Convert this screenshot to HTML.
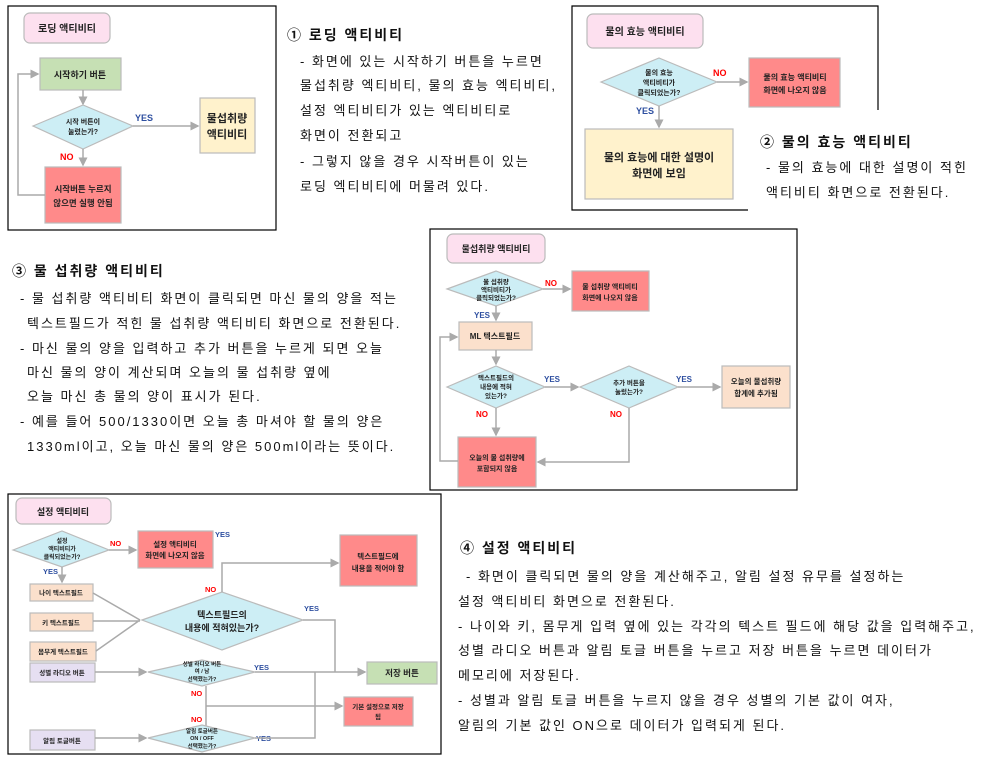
<!DOCTYPE html>
<html><head><meta charset="utf-8"><style>
html,body{margin:0;padding:0;background:#fff;}
svg{display:block;font-family:"Liberation Sans","Noto Sans CJK KR",sans-serif;}
.t{font-size:13px;fill:#111;letter-spacing:2px;}
.h{font-size:14px;font-weight:bold;fill:#111;letter-spacing:2px;}
.b{font-size:8px;font-weight:bold;fill:#222;text-anchor:middle;}
.y{font-size:9px;font-weight:bold;fill:#2e4fa0;}
.n{font-size:9px;font-weight:bold;fill:#f00;}
.l{stroke:#aaa;stroke-width:1.5;fill:none;}
.bx{stroke:#bbb;stroke-width:1.2;}
</style></head><body>
<svg width="981" height="760" viewBox="0 0 981 760">
<defs><marker id="a" markerWidth="6" markerHeight="6" refX="5" refY="3" orient="auto"><path d="M0,0 L6,3 L0,6z" fill="#aaa"/></marker></defs>

<!-- Panel 1 -->
<rect x="8" y="6" width="268" height="224" fill="none" stroke="#000" stroke-width="1.2"/>
<rect x="24" y="13" width="86" height="30" rx="6" fill="#fde0ef" stroke="#bbb" stroke-width="1.2"/>
<text x="67" y="32" class="b" style="font-size:10px">로딩 액티비티</text>
<rect x="40" y="58" width="81" height="32" fill="#c6e0b4" class="bx"/>
<text x="80" y="78" class="b" style="font-size:9px">시작하기 버튼</text>
<path class="l" d="M83,90 V104" marker-end="url(#a)"/>
<polygon points="33,126 83,105 133,126 83,149" fill="#cdeef5" class="bx"/>
<text x="83" y="124" class="b" style="font-size:7px">시작 버튼이</text>
<text x="83" y="134" class="b" style="font-size:7px">눌렸는가?</text>
<text x="135" y="121" class="y">YES</text>
<path class="l" d="M133,126 H198" marker-end="url(#a)"/>
<rect x="200" y="98" width="55" height="55" fill="#fff2cc" class="bx"/>
<text x="227" y="122" class="b" style="font-size:11px">물섭취량</text>
<text x="227" y="138" class="b" style="font-size:11px">액티비티</text>
<text x="60" y="160" class="n">NO</text>
<path class="l" d="M83,149 V165" marker-end="url(#a)"/>
<rect x="45" y="167" width="76" height="56" fill="#ff8a8a" class="bx"/>
<text x="83" y="192" class="b" style="font-size:8.5px">시작버튼 누르지</text>
<text x="83" y="206" class="b" style="font-size:8.5px">않으면 실행 안됨</text>
<path class="l" d="M45,195 H18 V74 H38" marker-end="url(#a)"/>

<!-- Text 1 -->
<text x="287" y="40" class="h">① 로딩 액티비티</text>
<text x="300" y="66" class="t">- 화면에 있는 시작하기 버튼을 누르면</text>
<text x="300" y="90" class="t">물섭취량 엑티비티, 물의 효능 엑티비티,</text>
<text x="300" y="115" class="t">설정 엑티비티가 있는 엑티비티로</text>
<text x="300" y="140" class="t">화면이 전환되고</text>
<text x="300" y="166" class="t">- 그렇지 않을 경우 시작버튼이 있는</text>
<text x="300" y="191" class="t">로딩 엑티비티에 머물려 있다.</text>

<!-- Panel 2 -->
<path d="M748,210 H572 V6 H878 V110" fill="none" stroke="#000" stroke-width="1.2"/>
<rect x="587" y="14" width="116" height="34" rx="6" fill="#fde0ef" stroke="#bbb" stroke-width="1.2"/>
<text x="645" y="35" class="b" style="font-size:10px">물의 효능 액티비티</text>
<polygon points="601,82 659,58 717,82 659,106" fill="#cdeef5" class="bx"/>
<text x="659" y="75" class="b" style="font-size:7px">물의 효능</text>
<text x="659" y="85" class="b" style="font-size:7px">액티비티가</text>
<text x="659" y="95" class="b" style="font-size:7px">클릭되었는가?</text>
<text x="713" y="76" class="n">NO</text>
<path class="l" d="M717,82 H747" marker-end="url(#a)"/>
<rect x="749" y="58" width="91" height="49" fill="#ff8a8a" class="bx"/>
<text x="795" y="80" class="b" style="font-size:8px">물의 효능 액티비티</text>
<text x="795" y="93" class="b" style="font-size:8px">화면에 나오지 않음</text>
<text x="636" y="114" class="y">YES</text>
<path class="l" d="M659,106 V127" marker-end="url(#a)"/>
<rect x="585" y="129" width="148" height="70" fill="#fff2cc" class="bx"/>
<text x="659" y="161" class="b" style="font-size:11px">물의 효능에 대한 설명이</text>
<text x="659" y="177" class="b" style="font-size:11px">화면에 보임</text>
<text x="760" y="147" class="h">② 물의 효능 액티비티</text>
<text x="766" y="172" class="t">- 물의 효능에 대한 설명이 적힌</text>
<text x="766" y="197" class="t">액티비티 화면으로 전환된다.</text>

<!-- Text 3 -->
<text x="12" y="276" class="h">③ 물 섭취량 액티비티</text>
<text x="20" y="303" class="t">- 물 섭취량 액티비티 화면이 클릭되면 마신 물의 양을 적는</text>
<text x="27" y="328" class="t">텍스트필드가 적힌 물 섭취량 액티비티 화면으로 전환된다.</text>
<text x="20" y="353" class="t">- 마신 물의 양을 입력하고 추가 버튼을 누르게 되면 오늘</text>
<text x="27" y="377" class="t">마신 물의 양이 계산되며 오늘의 물 섭취량 옆에</text>
<text x="27" y="401" class="t">오늘 마신 총 물의 양이 표시가 된다.</text>
<text x="20" y="426" class="t">- 예를 들어 500/1330이면 오늘 총 마셔야 할 물의 양은</text>
<text x="27" y="451" class="t">1330ml이고, 오늘 마신 물의 양은 500ml이라는 뜻이다.</text>

<!-- Panel 3 -->
<rect x="430" y="229" width="367" height="261" fill="none" stroke="#000" stroke-width="1.2"/>
<rect x="447" y="234" width="98" height="29" rx="6" fill="#fde0ef" stroke="#bbb" stroke-width="1.2"/>
<text x="496" y="252" class="b" style="font-size:9px">물섭취량 액티비티</text>
<polygon points="447,289 496,271 543,289 496,306" fill="#cdeef5" class="bx"/>
<text x="496" y="284" class="b" style="font-size:6.5px">물 섭취량</text>
<text x="496" y="292" class="b" style="font-size:6.5px">액티비티가</text>
<text x="496" y="300" class="b" style="font-size:6.5px">클릭되었는가?</text>
<text x="545" y="286" class="n" style="font-size:8px">NO</text>
<path class="l" d="M543,289 H570" marker-end="url(#a)"/>
<rect x="572" y="271" width="77" height="40" fill="#ff8a8a" class="bx"/>
<text x="610" y="289" class="b" style="font-size:7px">물 섭취량 액티비티</text>
<text x="610" y="300" class="b" style="font-size:7px">화면에 나오지 않음</text>
<text x="474" y="318" class="y" style="font-size:8px">YES</text>
<path class="l" d="M496,306 V320" marker-end="url(#a)"/>
<rect x="459" y="322" width="73" height="28" fill="#fbe0cc" class="bx"/>
<text x="495" y="339" class="b" style="font-size:8px">ML 텍스트필드</text>
<path class="l" d="M496,350 V364" marker-end="url(#a)"/>
<polygon points="447,387 496,366 545,387 496,408" fill="#cdeef5" class="bx"/>
<text x="496" y="380" class="b" style="font-size:6.5px">텍스트필드의</text>
<text x="496" y="389" class="b" style="font-size:6.5px">내용에 적혀</text>
<text x="496" y="398" class="b" style="font-size:6.5px">있는가?</text>
<text x="544" y="382" class="y" style="font-size:8px">YES</text>
<path class="l" d="M545,387 H578" marker-end="url(#a)"/>
<polygon points="580,387 629,366 678,387 629,408" fill="#cdeef5" class="bx"/>
<text x="629" y="385" class="b" style="font-size:6.5px">추가 버튼을</text>
<text x="629" y="394" class="b" style="font-size:6.5px">눌렀는가?</text>
<text x="676" y="382" class="y" style="font-size:8px">YES</text>
<path class="l" d="M678,387 H720" marker-end="url(#a)"/>
<rect x="722" y="366" width="68" height="42" fill="#fbe0cc" class="bx"/>
<text x="756" y="384" class="b" style="font-size:7.5px">오늘의 물섭취량</text>
<text x="756" y="396" class="b" style="font-size:7.5px">합계에 추가됨</text>
<text x="476" y="417" class="n" style="font-size:8px">NO</text>
<path class="l" d="M496,408 V435" marker-end="url(#a)"/>
<text x="610" y="417" class="n" style="font-size:8px">NO</text>
<path class="l" d="M629,408 V462 H538" marker-end="url(#a)"/>
<rect x="458" y="437" width="78" height="50" fill="#ff8a8a" class="bx"/>
<text x="497" y="460" class="b" style="font-size:7px">오늘의 물 섭취량에</text>
<text x="497" y="471" class="b" style="font-size:7px">포함되지 않음</text>
<path class="l" d="M458,461 H440 V337 H457" marker-end="url(#a)"/>

<!-- Panel 4 -->
<rect x="8" y="494" width="433" height="260" fill="none" stroke="#000" stroke-width="1.2"/>
<rect x="16" y="498" width="95" height="26" rx="6" fill="#fde0ef" stroke="#bbb" stroke-width="1.2"/>
<text x="63" y="515" class="b" style="font-size:9px">설정 액티비티</text>
<polygon points="13,550 62,531 109,550 62,567" fill="#cdeef5" class="bx"/>
<text x="62" y="543" class="b" style="font-size:6px">설정</text>
<text x="62" y="551" class="b" style="font-size:6px">액티비티가</text>
<text x="62" y="559" class="b" style="font-size:6px">클릭되었는가?</text>
<text x="110" y="546" class="n" style="font-size:7.5px">NO</text>
<path class="l" d="M109,550 H136" marker-end="url(#a)"/>
<rect x="138" y="531" width="75" height="37" fill="#ff8a8a" class="bx"/>
<text x="175" y="547" class="b" style="font-size:7.5px">설정 액티비티</text>
<text x="175" y="558" class="b" style="font-size:7.5px">화면에 나오지 않음</text>
<text x="215" y="537" class="y" style="font-size:7.5px">YES</text>
<text x="43" y="574" class="y" style="font-size:7.5px">YES</text>
<path class="l" d="M62,567 V582" marker-end="url(#a)"/>
<rect x="30" y="584" width="63" height="17" fill="#fbe0cc" class="bx"/>
<text x="61" y="595" class="b" style="font-size:6.5px">나이 텍스트필드</text>
<rect x="30" y="613" width="63" height="18" fill="#fbe0cc" class="bx"/>
<text x="61" y="625" class="b" style="font-size:6.5px">키 텍스트필드</text>
<rect x="30" y="642" width="66" height="19" fill="#fbe0cc" class="bx"/>
<text x="63" y="654" class="b" style="font-size:6.5px">몸무게 텍스트필드</text>
<path class="l" d="M93,593 L140,620 M93,621 H140 M96,651 L140,620"/>
<polygon points="142,620 222,592 303,620 222,650" fill="#cdeef5" class="bx"/>
<text x="222" y="618" class="b" style="font-size:9px">텍스트필드의</text>
<text x="222" y="631" class="b" style="font-size:9px">내용에 적혀있는가?</text>
<text x="205" y="592" class="n" style="font-size:7.5px">NO</text>
<path class="l" d="M222,592 V563 H338" marker-end="url(#a)"/>
<rect x="340" y="535" width="77" height="51" fill="#ff8a8a" class="bx"/>
<text x="378" y="559" class="b" style="font-size:7.5px">텍스트필드에</text>
<text x="378" y="571" class="b" style="font-size:7.5px">내용을 적어야 함</text>
<text x="304" y="611" class="y" style="font-size:7.5px">YES</text>
<path class="l" d="M303,620 H335 V672"/>
<rect x="30" y="663" width="65" height="19" fill="#e6dff2" class="bx"/>
<text x="62" y="675" class="b" style="font-size:6.5px">성별 라디오 버튼</text>
<path class="l" d="M95,672 H146" marker-end="url(#a)"/>
<polygon points="148,672 202,660 255,672 202,686" fill="#cdeef5" class="bx"/>
<text x="202" y="666" class="b" style="font-size:5.5px">성별 라디오 버튼</text>
<text x="202" y="673" class="b" style="font-size:5.5px">여 / 남</text>
<text x="202" y="681" class="b" style="font-size:5.5px">선택했는가?</text>
<text x="254" y="670" class="y" style="font-size:7.5px">YES</text>
<path class="l" d="M255,672 H365" marker-end="url(#a)"/>
<rect x="367" y="662" width="70" height="22" fill="#c6e0b4" class="bx"/>
<text x="402" y="676" class="b" style="font-size:8.5px">저장 버튼</text>
<text x="191" y="696" class="n" style="font-size:7.5px">NO</text>
<path class="l" d="M206,686 V726 M206,706 H342" marker-end="url(#a)"/>
<rect x="344" y="697" width="69" height="29" fill="#ff8a8a" class="bx"/>
<text x="378" y="709" class="b" style="font-size:6.5px">기본 설정으로 저장</text>
<text x="378" y="719" class="b" style="font-size:6.5px">됨</text>
<text x="191" y="722" class="n" style="font-size:7.5px">NO</text>
<rect x="30" y="730" width="65" height="20" fill="#e6dff2" class="bx"/>
<text x="62" y="743" class="b" style="font-size:6.5px">알림 토글버튼</text>
<path class="l" d="M95,738 H146" marker-end="url(#a)"/>
<polygon points="148,738 202,725 255,738 202,752" fill="#cdeef5" class="bx"/>
<text x="202" y="733" class="b" style="font-size:5.5px">알림 토글버튼</text>
<text x="202" y="740" class="b" style="font-size:5.5px">ON / OFF</text>
<text x="202" y="748" class="b" style="font-size:5.5px">선택했는가?</text>
<text x="256" y="741" class="y" style="font-size:7.5px">YES</text>
<path class="l" d="M255,738 H315 V672"/>

<!-- Text 4 -->
<text x="460" y="553" class="h">④ 설정 액티비티</text>
<text x="466" y="581" class="t">-  화면이 클릭되면 물의 양을 계산해주고, 알림 설정 유무를 설정하는</text>
<text x="458" y="606" class="t">설정 액티비티 화면으로 전환된다.</text>
<text x="458" y="631" class="t">- 나이와 키, 몸무게 입력 옆에 있는 각각의 텍스트 필드에 해당 값을 입력해주고,</text>
<text x="458" y="655" class="t">성별 라디오 버튼과 알림 토글 버튼을 누르고 저장 버튼을 누르면 데이터가</text>
<text x="458" y="680" class="t">메모리에 저장된다.</text>
<text x="458" y="705" class="t">- 성별과 알림 토글 버튼을 누르지 않을 경우 성별의 기본 값이 여자,</text>
<text x="458" y="730" class="t">알림의 기본 값인 ON으로 데이터가 입력되게 된다.</text>
</svg>
</body></html>
